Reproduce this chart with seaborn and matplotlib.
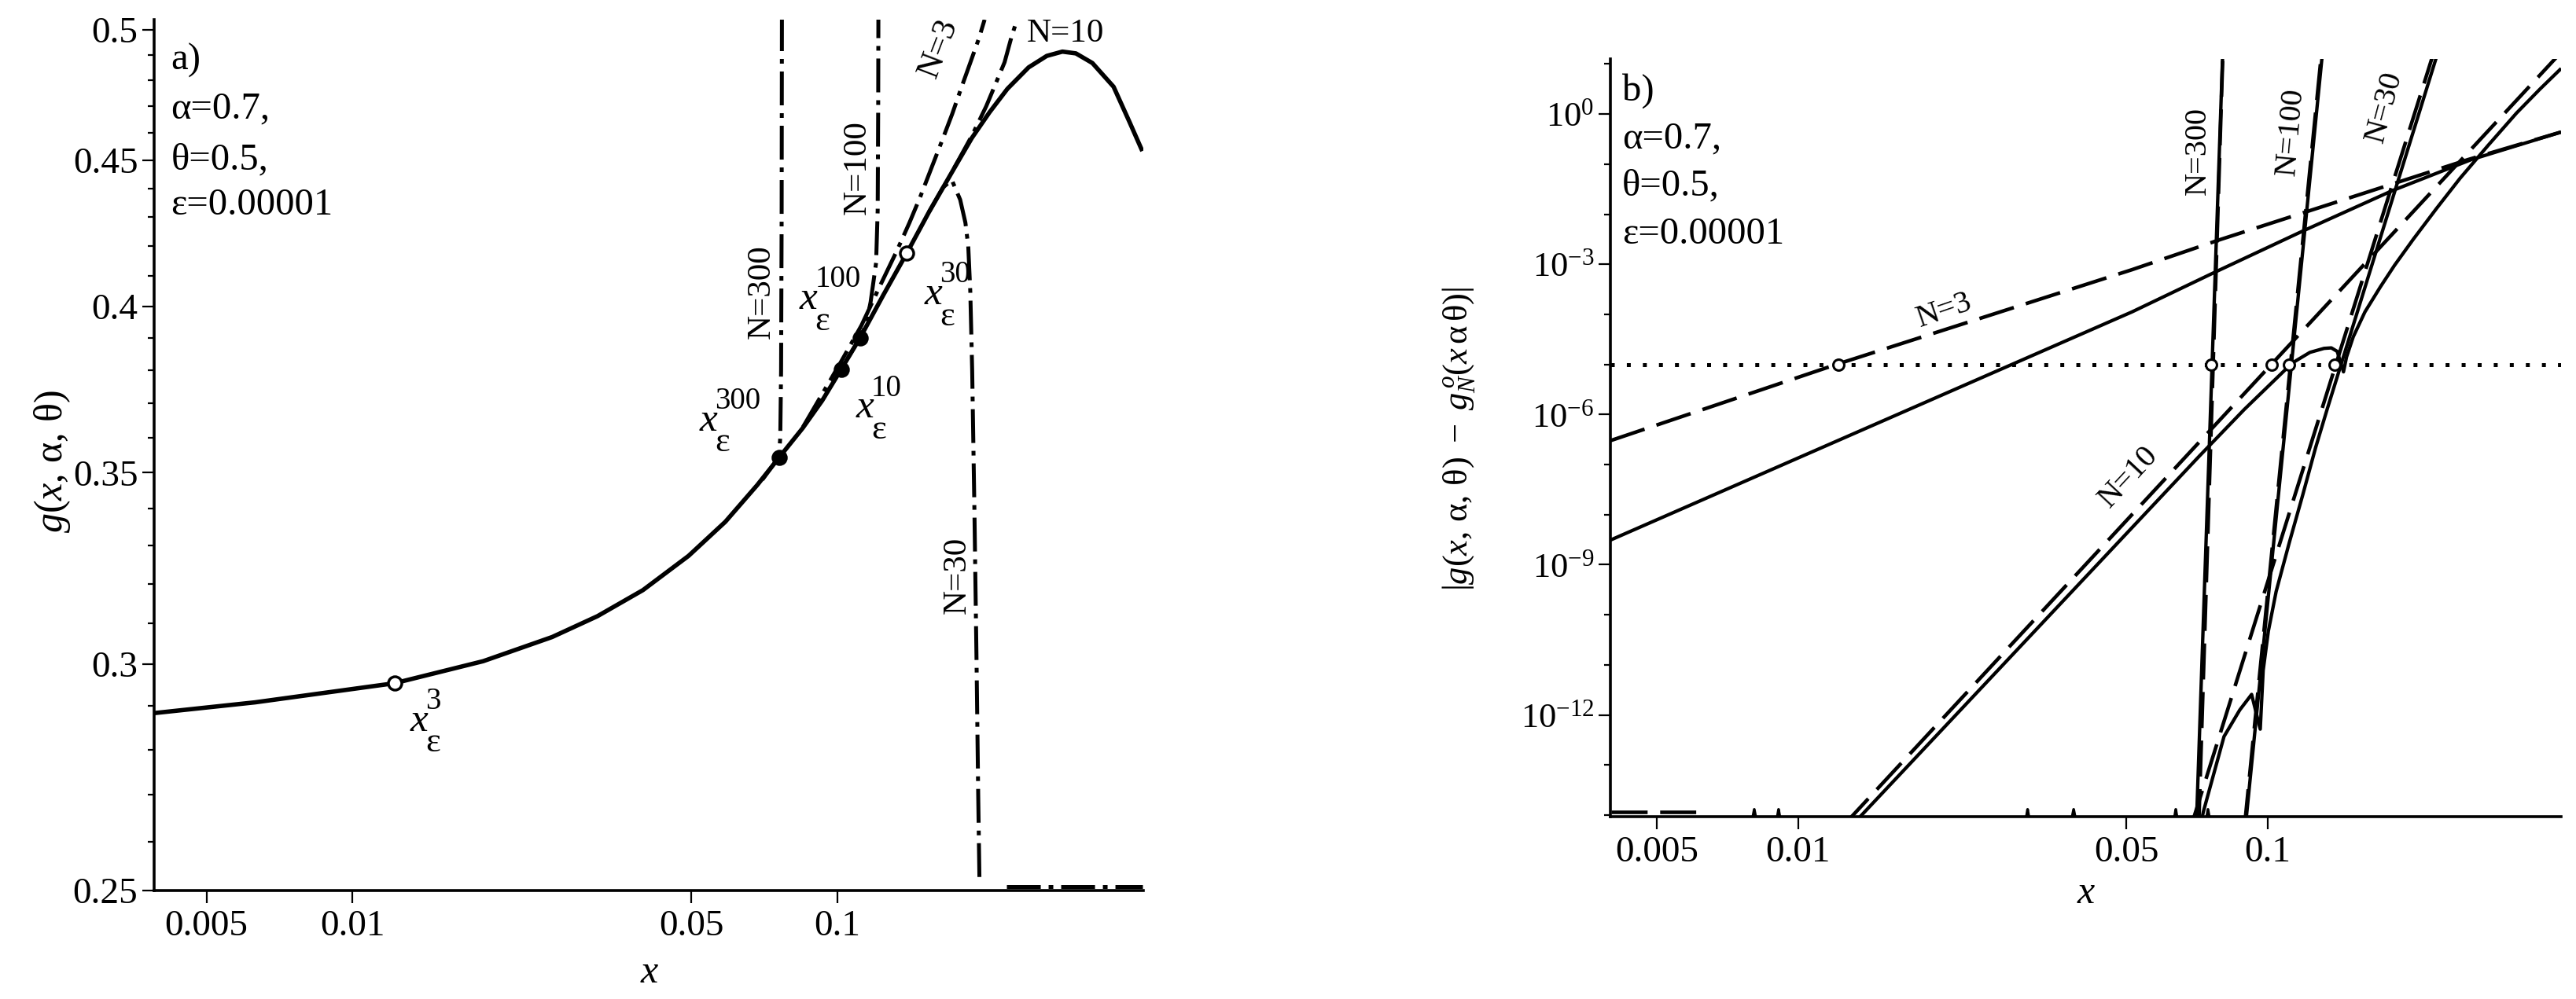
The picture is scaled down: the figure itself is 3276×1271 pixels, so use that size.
import matplotlib
matplotlib.use("Agg")
import matplotlib.pyplot as plt
import seaborn as sns
from matplotlib.ticker import FixedLocator, NullLocator, NullFormatter

sns.set_theme(style="ticks", rc={
    "axes.edgecolor": "black", "xtick.color": "black", "ytick.color": "black",
    "text.color": "black", "axes.labelcolor": "black", "axes.grid": False,
})
plt.rcParams["font.family"] = ["Liberation Serif", "DejaVu Serif"]
plt.rcParams["mathtext.fontset"] = "custom"
plt.rcParams["mathtext.rm"] = "Liberation Serif"
plt.rcParams["mathtext.it"] = "Liberation Serif:italic"
plt.rcParams["mathtext.bf"] = "Liberation Serif:bold"
plt.rcParams["lines.scale_dashes"] = False
plt.rcParams["lines.solid_capstyle"] = "butt"

# ---------------- data: panel a ----------------
g_x = [0.00391, 0.0063, 0.0122, 0.0186, 0.0258, 0.0320, 0.0397, 0.0493, 0.0587, 0.0683,
       0.0757, 0.0848, 0.0930, 0.1018, 0.1112, 0.1242, 0.1390, 0.1545, 0.1739, 0.1892,
       0.2058, 0.2240, 0.2477, 0.2700, 0.2908, 0.3100, 0.3353, 0.3708, 0.4000, 0.4250]
g_y = [0.2884, 0.2909, 0.2954, 0.3007, 0.3066, 0.3118, 0.3184, 0.3273, 0.3364, 0.3465,
       0.3542, 0.3628, 0.3709, 0.3804, 0.3900, 0.4037, 0.4177, 0.4318, 0.4471, 0.4582,
       0.4678, 0.4767, 0.4850, 0.4895, 0.4912, 0.4905, 0.4867, 0.4775, 0.4641, 0.4534]

n3a_x = [0.0848, 0.1018, 0.1120, 0.1221, 0.1326, 0.1407, 0.1481, 0.1558, 0.1639, 0.1724,
         0.1799, 0.1877, 0.1957, 0.2010]
n3a_y = [0.3630, 0.3828, 0.3940, 0.4065, 0.4185, 0.4280, 0.4370, 0.4468, 0.4568, 0.4672,
         0.4770, 0.4867, 0.4965, 0.5040]
n10a_x = [0.1739, 0.1892, 0.2025, 0.2111, 0.2210, 0.2285, 0.2345]
n10a_y = [0.4472, 0.4590, 0.4700, 0.4780, 0.4870, 0.4972, 0.5040]
n30a_x = [0.1545, 0.1650, 0.1720, 0.1790, 0.1835, 0.1860, 0.1878, 0.1895, 0.1915, 0.1935,
          0.1950, 0.1962]
n30a_y = [0.4318, 0.4403, 0.4430, 0.4360, 0.4280, 0.4200, 0.4050, 0.3800, 0.3400, 0.3000,
          0.2700, 0.2515]
n30a_floor_x = [0.2232, 0.4250]
n30a_floor_y = [0.2508, 0.2508]
n100a_x = [0.1050, 0.1112, 0.1144, 0.1170, 0.1201, 0.1210, 0.1213, 0.1214]
n100a_y = [0.3838, 0.3901, 0.3941, 0.4015, 0.4144, 0.4323, 0.4704, 0.5040]
n300a_x = [0.0700, 0.0757, 0.0762, 0.0765, 0.0767, 0.0768]
n300a_y = [0.3480, 0.3544, 0.3600, 0.3800, 0.4300, 0.5040]

# x_eps^N points (N = 3, 300, 10, 100, 30)
eps_N = ["3", "300", "10", "100", "30"]
x_eps = [0.0122, 0.0757, 0.1018, 0.1112, 0.1390]
g_eps = [0.2954, 0.3542, 0.3804, 0.3900, 0.4177]
eps = 1e-5

a_ticks = [0.25, 0.3, 0.35, 0.4, 0.45, 0.5]
a_ticklabels = ["0.25", "0.3", "0.35", "0.4", "0.45", "0.5"]
a_minor = [0.26, 0.27, 0.28, 0.29, 0.31, 0.32, 0.33, 0.34, 0.36, 0.37, 0.38, 0.39,
           0.41, 0.42, 0.43, 0.44, 0.46, 0.47, 0.48, 0.49]
x_ticks = [0.005, 0.01, 0.05, 0.1]
x_ticklabels = ["0.005", "0.01", "0.05", "0.1"]

# ---------------- data: panel b ----------------
n3b_dash_x = [0.00398, 0.01206, 0.0514, 0.0791, 0.267, 0.4215]
n3b_dash_y = [3.0e-7, 1.0e-5, 7.8e-4, 3.1e-3, 0.123, 0.437]
n3b_sol_x = [0.00398, 0.0514, 0.0768, 0.1181, 0.1842, 0.2714, 0.4215]
n3b_sol_y = [3.1e-9, 1.12e-4, 6.8e-4, 4.5e-3, 0.0295, 0.123, 0.437]

n10b_dash_x = [0.0125, 0.1018, 0.4188]
n10b_dash_y = [6.3e-15, 1.0e-5, 16.0]
n10b_sol_x = [0.01303, 0.07152, 0.08913, 0.1128, 0.1230, 0.1318, 0.1366, 0.1406, 0.1450,
              0.1472, 0.1521, 0.1611, 0.1738, 0.1862, 0.2042, 0.2291, 0.2570, 0.2951,
              0.3388, 0.3802, 0.4217]
n10b_sol_y = [6.3e-15, 1.48e-7, 1.26e-6, 1.07e-5, 1.74e-5, 2.09e-5, 2.14e-5, 1.82e-5, 7.1e-6,
              1.41e-5, 3.55e-5, 1.12e-4, 3.55e-4, 9.5e-4, 3.16e-3, 1.32e-2, 5.25e-2, 0.240,
              1.047, 3.16, 8.13]

n30b_dash_x = [0.0688, 0.1397, 0.2252]
n30b_dash_y = [6.3e-15, 1.0e-5, 15.8]
n30b_sol_x = [0.0716, 0.0729, 0.0807, 0.0872, 0.0924, 0.0964, 0.0978, 0.1003, 0.1042, 0.1112,
              0.1187, 0.1264, 0.1339, 0.2285]
n30b_sol_y = [5e-15, 1.15e-14, 3.7e-13, 1.26e-12, 2.57e-12, 5.2e-13, 7.8e-12, 4.7e-11, 2.9e-10,
              2.8e-9, 2.45e-8, 2.14e-7, 1.29e-6, 13.3]

n100b_sol_x = [0.0897, 0.1305]
n100b_sol_y = [6.3e-15, 13.5]
n100b_dash_x = [0.0893, 0.1299]
n100b_dash_y = [6.3e-15, 13.5]
n300b_sol_x = [0.07048, 0.08013]
n300b_sol_y = [6.3e-15, 13.5]
n300b_dash_x = [0.0713, 0.0802]
n300b_dash_y = [6.3e-15, 13.5]

floor_dash_x = [0.00399, 0.0062]
floor_dash_y = [1.15e-14, 1.15e-14]
spike_x = [[0.00800, 0.00806, 0.00812], [0.00902, 0.00908, 0.00914], [0.0306, 0.0308, 0.0310],
           [0.0383, 0.0386, 0.0389], [0.0633, 0.0637, 0.0641], [0.0741, 0.0746, 0.0751]]
spike_y = [[9.0e-15, 1.3e-14, 9.0e-15]] * 6

b_ticks = [1e0, 1e-3, 1e-6, 1e-9, 1e-12]
b_ticklabels = [r"$10^{0}$", r"$10^{-3}$", r"$10^{-6}$", r"$10^{-9}$", r"$10^{-12}$"]
b_minor = [1e1, 1e-1, 1e-2, 1e-4, 1e-5, 1e-7, 1e-8, 1e-10, 1e-11, 1e-13, 1e-14]

# ---------------- styles ----------------
DASHDOT = (0, (31, 7.2, 4.3, 7.2))
DASH = (0, (33, 11.5))
DOT = (0, (3.6, 11.1))


def line(ax, x, y, lw, ls="-", z=2):
    sns.lineplot(x=x, y=y, ax=ax, color="black", linewidth=lw, linestyle=ls,
                 sort=False, estimator=None, legend=False, zorder=z)


W, H = 3276, 1271
fig = plt.figure(figsize=(W / 100, H / 100), dpi=100)

# ================= panel a =================
ax = fig.add_axes([196 / W, 1 - 1133 / H, 1258 / W, 1108 / H])
ax.set_xscale("log")
ax.set_yscale("log")
ax.set_xlim(0.0039, 0.427)
ax.set_ylim(0.25, 0.504)

for xs, ys in [(n3a_x, n3a_y), (n10a_x, n10a_y), (n30a_x, n30a_y), (n30a_floor_x, n30a_floor_y),
               (n100a_x, n100a_y), (n300a_x, n300a_y)]:
    line(ax, xs, ys, 3.6, DASHDOT, z=2)
line(ax, g_x, g_y, 4.0, "-", z=3)

face_a = ["white", "black", "black", "black", "white"]
for xe, ge, fc in zip(x_eps, g_eps, face_a):
    sns.scatterplot(x=[xe], y=[ge], ax=ax, marker="o", s=150, color=fc,
                    edgecolor="black", linewidth=2.5, zorder=5, legend=False)

ax.set_xticks(x_ticks)
ax.set_xticklabels(x_ticklabels)
ax.xaxis.set_minor_locator(NullLocator())
ax.set_yticks(a_ticks)
ax.set_yticklabels(a_ticklabels)
ax.yaxis.set_minor_locator(FixedLocator(a_minor))
ax.yaxis.set_minor_formatter(NullFormatter())

fs_ann = 35
ax.text(0.017, 0.953, "a)", transform=ax.transAxes, fontsize=fs_ann, va="center", ha="left")
ax.text(0.017, 0.898, "α=0.7,", transform=ax.transAxes, fontsize=fs_ann, va="center", ha="left")
ax.text(0.017, 0.839, "θ=0.5,", transform=ax.transAxes, fontsize=fs_ann, va="center", ha="left")
ax.text(0.017, 0.787, "ε=0.00001", transform=ax.transAxes, fontsize=fs_ann, va="center", ha="left")

fs_n = 31
ax.text(0.0697, 0.4049, "N=300", rotation=90, fontsize=fs_n, ha="center", va="center")
ax.text(0.1098, 0.4475, "N=100", rotation=90, fontsize=fs_n, ha="center", va="center")
ax.text(0.1617, 0.4925, "N=3", rotation=69, fontsize=fs_n, ha="center", va="center")
ax.text(0.2949, 0.4984, "N=10", rotation=0, fontsize=fs_n, ha="center", va="center")
ax.text(0.1768, 0.3222, "N=30", rotation=90, fontsize=fs_n, ha="center", va="center")

# x_eps^N labels: italic x with the N above-right and epsilon below-right
lab_pos = [(0.01373, 0.2865), (0.0541, 0.3649), (0.1137, 0.3687), (0.0871, 0.4024), (0.1575, 0.4039)]
for n, (lx, ly) in zip(eps_N, lab_pos):
    ax.text(lx, ly, "x", fontsize=37, style="italic", ha="center", va="center")
    ax.annotate(n, (lx, ly), xytext=(6, 18), textcoords="offset points",
                fontsize=28, ha="left", va="center")
    ax.annotate("ε", (lx, ly), xytext=(6, -20), textcoords="offset points",
                fontsize=32, ha="left", va="center")

ax.text(0.5008, -0.0948, r"$x$", transform=ax.transAxes, fontsize=36, ha="center", va="center")
ax.text(-0.103, 0.4928, r"$g(x,\,\mathrm{α},\,\mathrm{θ})$", transform=ax.transAxes,
        fontsize=36, ha="center", va="center", rotation=90)

# ================= panel b =================
bx = fig.add_axes([2048 / W, 1 - 1039 / H, 1209 / W, 964 / H])
bx.set_xscale("log")
bx.set_yscale("log")
bx.set_xlim(0.00398, 0.4215)
bx.set_ylim(9.3e-15, 12.6)

line(bx, [0.00398, 0.4215], [eps, eps], 3.6, DOT, z=1)
for xs, ys in [(n3b_dash_x, n3b_dash_y), (n10b_dash_x, n10b_dash_y), (n30b_dash_x, n30b_dash_y),
               (n100b_dash_x, n100b_dash_y), (n300b_dash_x, n300b_dash_y),
               (floor_dash_x, floor_dash_y)]:
    line(bx, xs, ys, 3.3, DASH, z=2)
for xs, ys in [(n3b_sol_x, n3b_sol_y), (n10b_sol_x, n10b_sol_y), (n30b_sol_x, n30b_sol_y),
               (n100b_sol_x, n100b_sol_y), (n300b_sol_x, n300b_sol_y)]:
    line(bx, xs, ys, 3.1, "-", z=3)
for xs, ys in zip(spike_x, spike_y):
    line(bx, xs, ys, 2.5, "-", z=3)

sns.scatterplot(x=x_eps, y=[eps] * len(x_eps), ax=bx, marker="o", s=100, color="white",
                edgecolor="black", linewidth=2.2, zorder=5, legend=False)

bx.set_xticks(x_ticks)
bx.set_xticklabels(x_ticklabels)
bx.xaxis.set_minor_locator(NullLocator())
bx.set_yticks(b_ticks)
bx.set_yticklabels(b_ticklabels)
bx.yaxis.set_minor_locator(FixedLocator(b_minor))
bx.yaxis.set_minor_formatter(NullFormatter())

bx.text(0.0124, 0.9575, "b)", transform=bx.transAxes, fontsize=fs_ann, va="center", ha="left")
bx.text(0.0124, 0.895, "α=0.7,", transform=bx.transAxes, fontsize=fs_ann, va="center", ha="left")
bx.text(0.0124, 0.833, "θ=0.5,", transform=bx.transAxes, fontsize=fs_ann, va="center", ha="left")
bx.text(0.0124, 0.769, "ε=0.00001", transform=bx.transAxes, fontsize=fs_ann, va="center", ha="left")

fs_nb = 29
bx.text(0.0710, 0.185, "N=300", rotation=90, fontsize=fs_nb, ha="center", va="center")
bx.text(0.1118, 0.447, "N=100", rotation=85, fontsize=fs_nb, ha="center", va="center")
bx.text(0.1777, 1.38, "N=30", rotation=75, fontsize=fs_nb, ha="center", va="center")
bx.text(0.0205, 1.19e-4, "N=3", rotation=19, fontsize=fs_nb, ha="center", va="center")
bx.text(0.0505, 5.6e-8, "N=10", rotation=47, fontsize=fs_nb, ha="center", va="center")

bx.text(0.5003, -0.101, r"$x$", transform=bx.transAxes, fontsize=36, ha="center", va="center")
bx.text(-0.1596, 0.499,
        r"$|g(x,\,\mathrm{α},\,\mathrm{θ})\ -\ g_{N}^{\,o}(x\,\mathrm{α}\,\mathrm{θ})|$",
        transform=bx.transAxes, fontsize=32, ha="center", va="center", rotation=90)

for a in (ax, bx):
    for s in ("top", "right"):
        a.spines[s].set_visible(False)
    for s in ("left", "bottom"):
        a.spines[s].set_linewidth(2.6)
        a.spines[s].set_color("black")
    a.tick_params(axis="x", which="major", direction="out", length=11.5, width=1.6,
                  labelsize=34, pad=6, bottom=True)
    a.tick_params(axis="y", which="major", direction="out", length=10.8, width=1.6,
                  labelsize=34, pad=4, left=True)
    a.tick_params(axis="y", which="minor", direction="out", length=6, width=1.6, left=True)
    a.set_xlabel("")
    a.set_ylabel("")
bx.tick_params(axis="y", which="major", labelsize=32)

fig.savefig("out.png", dpi=100, facecolor="white")
